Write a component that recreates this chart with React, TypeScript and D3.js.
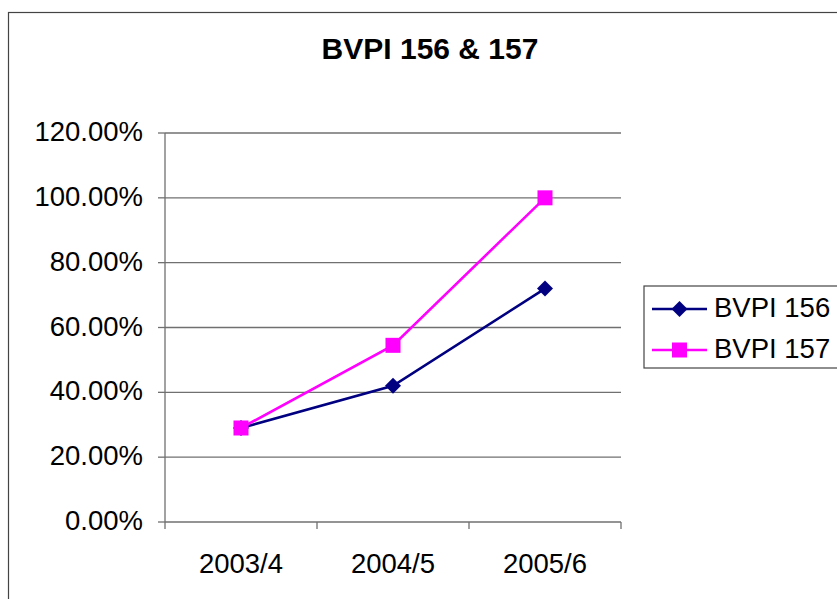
import React from "react";
import * as d3 from "d3";

const categories = ["2003/4", "2004/5", "2005/6"];
const bvpi156 = [0.29, 0.42, 0.72];
const bvpi157 = [0.29, 0.545, 1.0];
const yTicks = [0, 0.2, 0.4, 0.6, 0.8, 1.0, 1.2];
const seriesNames = ["BVPI 156", "BVPI 157"];
const seriesColors = ["#000080", "#FF00FF"];

const W = 837;
const H = 599;
const plot = { left: 165, right: 621, top: 133, bottom: 522 };
const FONT = "Liberation Sans, Arial, Helvetica, sans-serif";

export default function App() {
  const x = d3
    .scaleBand<string>()
    .domain(categories)
    .range([plot.left, plot.right])
    .padding(0);
  const y = d3.scaleLinear().domain([0, 1.2]).range([plot.bottom, plot.top]);
  const line = d3
    .line<number>()
    .x((_, i) => (x(categories[i]) as number) + x.bandwidth() / 2)
    .y((d) => y(d));
  const series = [bvpi156, bvpi157];
  const bounds = [...categories.map((c) => x(c) as number), plot.right];
  const fmt = (v: number) => (v * 100).toFixed(2) + "%";

  const diamond = (cx: number, cy: number, r: number) =>
    `M${cx},${cy - r}L${cx + r},${cy}L${cx},${cy + r}L${cx - r},${cy}Z`;

  return (
    <svg
      width={W}
      height={H}
      style={{ position: "absolute", left: 0, top: 0, background: "#fff" }}
      fontFamily={FONT}
    >
      <rect x={8.5} y={12.5} width={900} height={700} fill="#fff" stroke="#444" strokeWidth={1.2} />
      <text x={430} y={59} textAnchor="middle" fontSize={30} fontWeight="bold">
        BVPI 156 &amp; 157
      </text>
      {yTicks.map((t) => (
        <g key={t}>
          {t > 0 && (
            <line x1={plot.left} x2={plot.right} y1={y(t)} y2={y(t)} stroke="#707070" strokeWidth={1.3} />
          )}
          <line x1={plot.left - 7} x2={plot.left} y1={y(t)} y2={y(t)} stroke="#707070" strokeWidth={1.3} />
          <text x={143} y={y(t) + 8} textAnchor="end" fontSize={27.5}>
            {fmt(t)}
          </text>
        </g>
      ))}
      <line x1={plot.left} x2={plot.left} y1={plot.top} y2={plot.bottom} stroke="#707070" strokeWidth={1.3} />
      <line x1={plot.left} x2={plot.right} y1={plot.bottom} y2={plot.bottom} stroke="#707070" strokeWidth={1.3} />
      {bounds.map((b, i) => (
        <line key={i} x1={b} x2={b} y1={plot.bottom} y2={plot.bottom + 7} stroke="#707070" strokeWidth={1.3} />
      ))}
      {categories.map((c) => (
        <text key={c} x={(x(c) as number) + x.bandwidth() / 2} y={573} textAnchor="middle" fontSize={27.5}>
          {c}
        </text>
      ))}
      {series.map((s, si) => (
        <g key={si}>
          <path d={line(s) || ""} fill="none" stroke={seriesColors[si]} strokeWidth={2.6} />
          {s.map((v, i) => {
            const cx = (x(categories[i]) as number) + x.bandwidth() / 2;
            const cy = y(v);
            return si === 0 ? (
              <path key={i} d={diamond(cx, cy, 8)} fill={seriesColors[si]} />
            ) : (
              <rect key={i} x={cx - 7.5} y={cy - 7.5} width={15} height={15} fill={seriesColors[si]} />
            );
          })}
        </g>
      ))}
      <rect x={644} y={286} width={250} height={82} fill="#fff" stroke="#444" strokeWidth={1.2} />
      {seriesNames.map((n, i) => {
        const ly = i === 0 ? 309 : 350;
        return (
          <g key={n}>
            <line x1={652} x2={707} y1={ly} y2={ly} stroke={seriesColors[i]} strokeWidth={2.6} />
            {i === 0 ? (
              <path d={diamond(679.5, ly, 8)} fill={seriesColors[i]} />
            ) : (
              <rect x={672} y={ly - 7.5} width={15} height={15} fill={seriesColors[i]} />
            )}
            <text x={714} y={ly + 8} fontSize={27.5}>
              {n}
            </text>
          </g>
        );
      })}
    </svg>
  );
}
